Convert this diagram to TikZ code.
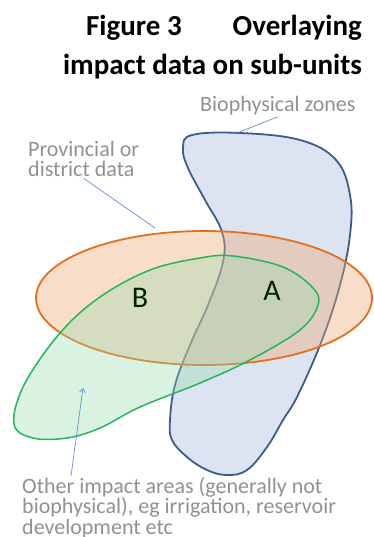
\documentclass[tikz,border=0pt]{standalone}
\usepackage{fontspec}
\setmainfont{Carlito}
\usetikzlibrary{arrows.meta}
\definecolor{zoneline}{RGB}{60, 92, 140}
\definecolor{zonefill}{RGB}{219, 228, 240}
\definecolor{provline}{RGB}{228, 112, 30}
\definecolor{provfill}{RGB}{238, 170, 118}
\definecolor{otherline}{RGB}{40, 180, 90}
\definecolor{otherfill}{RGB}{150, 218, 172}
\definecolor{leader}{RGB}{95, 145, 210}
\definecolor{labelgray}{RGB}{145, 145, 145}

\begin{document}
\begin{tikzpicture}[x=1pt, y=-1pt]
\tikzset{
    zone/.style={draw=zoneline, fill=zonefill, line width=1.8pt},
    prov/.style={draw=provline, fill=provfill, fill opacity=0.4, line width=1.8pt},
    other/.style={draw=otherline, fill=otherfill, fill opacity=0.35, line width=1.5pt},
    leaderline/.style={leader, line width=0.7pt},
    graylabel/.style={labelgray, font=\fontsize{22}{19}\selectfont, inner sep=1pt, align=left},
    letter/.style={font=\fontsize{30}{30}\selectfont, text=black!85!green}
}
\useasboundingbox (0,0) rectangle (374,537);

% Title (base anchor sits on the last line)
\node[anchor=base east, font=\fontsize{29}{39}\selectfont\bfseries, align=right, inner sep=0pt] (title) at (362,75)
    {Figure 3\hspace{51pt}Overlaying\\impact data on sub-units};

% Biophysical zone
\draw[zone] plot[smooth cycle, tension=0.65] coordinates {
    (192,135) (240,133) (300,140) (336,160) (350,195) (350,235) (340,285)
    (322,340) (298,395) (283,420) (267,447) (247,470) (227,475) (207,470)
    (187,457) (172,440) (170,420) (175,385) (190,345) (208,305) (223,262)
    (222,232) (205,200) (188,168) (183,148)};

% Provincial or district data
\draw[prov] (204,298) ellipse [x radius=168, y radius=67];

% Other impact areas
\draw[other] plot[smooth cycle, tension=0.6] coordinates {
    (233,256) (283,267) (313,288) (318,305) (300,330) (250,360) (200,383)
    (140,407) (100,428) (67,438) (33,438) (14,424) (24,385) (60,333)
    (100,297) (150,270) (200,258)};

\node[letter] (regB) at (140,298) {B};
\node[letter] (regA) at (272,291) {A};

% Labels and leaders
\node[graylabel, anchor=base west] (bio) at (199,112) {Biophysical zones};
\coordinate (bioend) at (237,133);
\draw[leaderline] (bio.south) -- (bioend);

\node[graylabel, anchor=base west, font=\fontsize{22}{20}\selectfont] (prov) at (27,177) {Provincial or\\district data};
\coordinate (provend) at (155,228);
\draw[leaderline] (prov.south) -- (provend);

\node[graylabel, anchor=base west] (otherlab) at (21,534)
    {Other impact areas (generally not\\biophysical), eg irrigation, reservoir\\development etc};
\coordinate (otherfoot) at (71,476);
\coordinate (othertip) at (83,388);
\draw[leaderline, -{Straight Barb[length=4pt, width=6pt]}] (otherfoot) -- (othertip);

\end{tikzpicture}
\end{document}
